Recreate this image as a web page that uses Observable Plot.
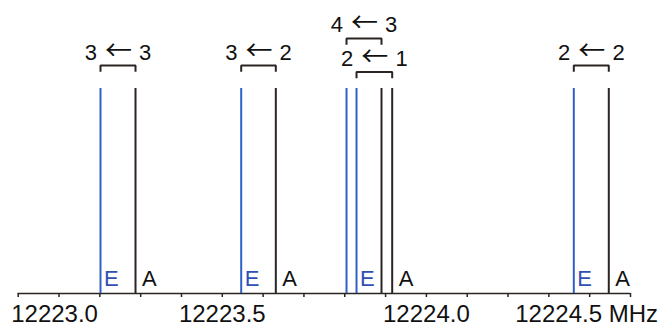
<!DOCTYPE html>
<html>
<head>
<meta charset="utf-8">
<script src="https://cdn.jsdelivr.net/npm/d3@7"></script>
<script src="https://cdn.jsdelivr.net/npm/@observablehq/plot@0.6"></script>
<style>
  html, body { margin: 0; padding: 0; background: #ffffff; }
</style>
</head>
<body>
<div id="chart"></div>
<script>
// ---- data ----
const transitions = ["3 ← 3", "3 ← 2", "4 ← 3", "2 ← 1", "2 ← 2"];
const freqE = [12223.2016, 12223.5463, 12223.8043, 12223.8288, 12224.3611]; // MHz
const freqA = [12223.2874, 12223.6311, 12223.8900, 12223.9162, 12224.4468]; // MHz
const intensityE = [1, 1, 1, 1, 1];
const intensityA = [1, 1, 1, 1, 1];
const showSymmetryLabel = [true, true, false, true, true];
const labelTier = [1, 1, 2, 0, 1]; // stacking row of each transition label
const majorTicks = [12223.0, 12223.5, 12224.0, 12224.5];
const tickLabels = ["12223.0", "12223.5", "12224.0", "12224.5 MHz"];
const minorTicks = [12223.0, 12223.1, 12223.2, 12223.3, 12223.4, 12223.5, 12223.6, 12223.7,
                    12223.8, 12223.9, 12224.0, 12224.1, 12224.2, 12224.3, 12224.4, 12224.5];

// ---- styles ----
const ink = "#2b2422";
const blue = "#2f5fc8";
const labelBlue = "#3050b4";
const tierY = [1.0805, 1.112, 1.244];
const leg = 0.03;

const lines = transitions.flatMap((t, i) => [
  {t, species: "E", f: freqE[i], I: intensityE[i], show: showSymmetryLabel[i]},
  {t, species: "A", f: freqA[i], I: intensityA[i], show: showSymmetryLabel[i]}
]);

const brackets = transitions.map((t, i) => ({
  t, xE: freqE[i], xA: freqA[i], yb: tierY[labelTier[i]], mid: (freqE[i] + freqA[i]) / 2
}));
const bracketPath = brackets.flatMap(b => [
  {t: b.t, x: b.xE, y: b.yb - leg},
  {t: b.t, x: b.xE, y: b.yb},
  {t: b.t, x: b.xA, y: b.yb},
  {t: b.t, x: b.xA, y: b.yb - leg}
]);

const tickRows = majorTicks.map((v, i) => ({v, label: tickLabels[i], i}));
const last = majorTicks.length - 1;

const chart = Plot.plot({
  width: 662,
  height: 324,
  marginLeft: 17.7,
  marginRight: 32,
  marginTop: 88,
  marginBottom: 31,
  x: {domain: [12223.0, 12224.5]},
  y: {domain: [0, 1], axis: null},
  style: {fontFamily: "'Liberation Sans', Arial, sans-serif", background: "transparent", overflow: "visible", color: ink},
  marks: [
    Plot.ruleY([0], {stroke: ink, strokeWidth: 1.6}),
    Plot.axisX(minorTicks, {tickSize: 4, tickFormat: () => "", stroke: ink, strokeWidth: 1.5}),
    Plot.ruleX(lines, {
      x: "f", y1: 0, y2: "I",
      stroke: d => d.species === "E" ? blue : ink,
      strokeWidth: 2
    }),
    Plot.text(lines.filter(d => d.species === "E" && d.show), {
      x: "f", y: 0, text: "species", dx: 3.5, dy: -8,
      textAnchor: "start", lineAnchor: "bottom", fontSize: 22, fill: labelBlue
    }),
    Plot.text(lines.filter(d => d.species === "A" && d.show), {
      x: "f", y: 0, text: "species", dx: 6.5, dy: -8,
      textAnchor: "start", lineAnchor: "bottom", fontSize: 22, fill: "#111"
    }),
    Plot.line(bracketPath, {x: "x", y: "y", z: "t", stroke: ink, strokeWidth: 2, strokeLinejoin: "miter", strokeLinecap: "butt"}),
    Plot.text(brackets, {
      x: "mid", y: "yb", text: "t", dy: -6, lineAnchor: "bottom", fontSize: 22, fill: "#111"
    }),
    Plot.text(tickRows.filter(d => d.i === 0), {
      x: "v", y: 0, text: "label", dy: 28, dx: -7, textAnchor: "start", lineAnchor: "bottom", fontSize: 24, fill: "#111"
    }),
    Plot.text(tickRows.filter(d => d.i > 0 && d.i < last), {
      x: "v", y: 0, text: "label", dy: 28, textAnchor: "middle", lineAnchor: "bottom", fontSize: 24, fill: "#111"
    }),
    Plot.text(tickRows.filter(d => d.i === last), {
      x: "v", y: 0, text: "label", dy: 28, dx: 27.5, textAnchor: "end", lineAnchor: "bottom", fontSize: 24, fill: "#111"
    })
  ]
});

// render the arrow of each transition label as a long thin arrow (text stays "n ← m")
d3.select(chart).selectAll("text").each(function() {
  const s = this.textContent;
  const k = s.indexOf("←");
  if (k < 0) return;
  const el = d3.select(this);
  el.text(null);
  el.append("tspan").text(s.slice(0, k));
  el.append("tspan").attr("dx", 2).attr("font-family", "'Noto Sans CJK SC', 'DejaVu Sans', sans-serif").attr("font-size", 27).text("←");
  el.append("tspan").attr("dx", 1).text(s.slice(k + 1));
});

document.getElementById("chart").appendChild(chart);
</script>
</body>
</html>
